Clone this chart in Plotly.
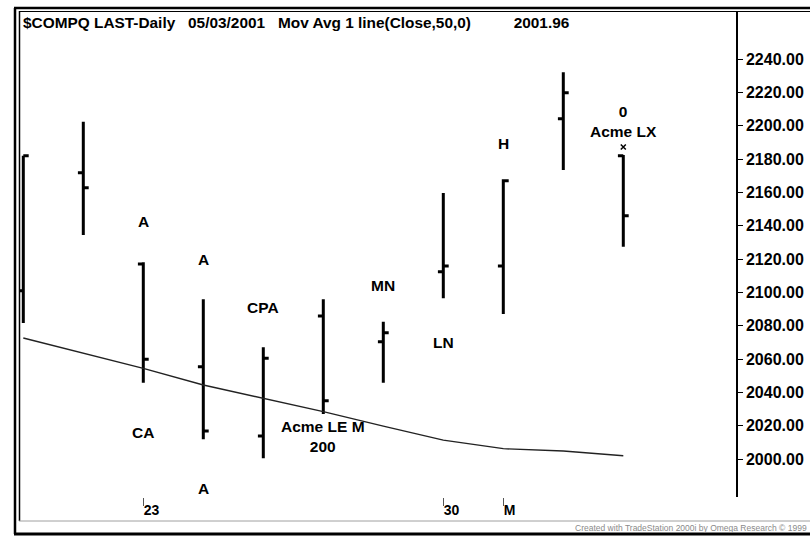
import plotly.graph_objects as go

# Daily bars, $COMPQ, Apr 19 - May 3 2001 (index = trading day)
bar_index = list(range(11))
opens = [2101.0, 2171.8, 2117.0, 2055.4, 2013.8, 2085.8, 2070.4, 2112.4, 2115.8, 2204.2, 2182.0]
highs = [2182.0, 2202.4, 2118.0, 2095.8, 2067.0, 2095.8, 2082.4, 2159.6, 2167.8, 2232.0, 2182.4]
lows = [2081.6, 2134.4, 2045.8, 2011.8, 2000.4, 2027.0, 2045.8, 2096.4, 2087.0, 2173.4, 2127.4]
closes = [2182.0, 2162.8, 2059.8, 2016.8, 2060.4, 2035.0, 2075.8, 2115.8, 2167.0, 2219.8, 2146.0]

# 50-day moving average of the close
mov_avg = [2072.6, 2063.5, 2054.4, 2044.4, 2036.4, 2028.4, 2019.7, 2011.3, 2006.2, 2004.8, 2001.96]

# Date labels on the time axis
date_ticks = [2, 7, 8]
date_labels = ["23", "30", "M"]

# Price scale
price_ticks = [2000, 2020, 2040, 2060, 2080, 2100, 2120, 2140, 2160, 2180, 2200, 2220, 2240]

# Strategy signal labels: (bar index, price level, text)
signal_idx = [2, 3, 4, 6, 7, 8, 10, 2, 5, 3]
signal_price = [2142.8, 2120.0, 2091.2, 2104.4, 2070.2, 2189.6, 2202.5, 2016.2, 2013.5, 1982.6]
signal_text = ["A", "A", "CPA", "MN", "LN", "H", "0<br>Acme LX", "CA", "Acme LE M<br>200", "A"]

# Exit marker above the last bar
exit_idx = [10]
exit_price = [2187.2]

W, H = 810, 536
PX_L, PX_R, PX_T, PX_B = 20, 736, 12, 497

def px_x(p):
    return (p - PX_L) / (PX_R - PX_L)

def px_y(p):
    return (PX_B - p) / (PX_B - PX_T)

FONT = "Arial, Liberation Sans, sans-serif"
NB = "\u00a0"

fig = go.Figure()

fig.add_trace(go.Scatter(
    x=bar_index, y=mov_avg, mode="lines",
    line=dict(color="#222222", width=1.4),
    hoverinfo="skip", showlegend=False,
))

fig.add_trace(go.Ohlc(
    x=bar_index, open=opens, high=highs, low=lows, close=closes,
    increasing=dict(line=dict(color="black", width=3)),
    decreasing=dict(line=dict(color="black", width=3)),
    tickwidth=0.09, showlegend=False,
))

fig.add_trace(go.Scatter(
    x=exit_idx, y=exit_price, mode="markers",
    marker=dict(symbol="x-thin", size=5, line=dict(color="black", width=1.5)),
    hoverinfo="skip", showlegend=False,
))

for xi, yi, t in zip(signal_idx, signal_price, signal_text):
    fig.add_annotation(
        x=xi, y=yi, xref="x", yref="y", text=t, showarrow=False,
        font=dict(family=FONT, size=15.5, color="black", weight="bold"),
        xanchor="center", yanchor="middle",
    )

# Chart header
header = ("$COMPQ LAST-Daily" + NB * 3 + "05/03/2001" + NB * 3 +
          "Mov Avg 1 line(Close,50,0)" + NB * 10 + "2001.96")
fig.add_annotation(
    x=px_x(21), y=px_y(22), xref="paper", yref="paper",
    text=header, showarrow=False, xanchor="left", yanchor="middle",
    font=dict(family=FONT, size=15.4, color="black", weight="bold"),
)

# Footer credit
fig.add_annotation(
    x=px_x(809), y=px_y(528), xref="paper", yref="paper",
    text="Created with TradeStation 2000i by Omega Research \u00a9 1999",
    showarrow=False, xanchor="right", yanchor="middle",
    font=dict(family=FONT, size=8.5, color="#8a8a8a"),
)

# Window frame lines
frame = [
    (15, 8, 15, 534, 2.5, "black"),
    (19.5, 11, 19.5, 521, 1.5, "black"),
    (14, 8, 810, 8, 2.5, "black"),
    (19, 11.5, 810, 11.5, 1.2, "black"),
    (19, 521, 810, 521, 1, "#a0a0a0"),
    (14, 534, 810, 534, 3, "black"),
]
for x0, y0, x1, y1, w, c in frame:
    fig.add_shape(type="line", xref="paper", yref="paper",
                  x0=px_x(x0), y0=px_y(y0), x1=px_x(x1), y1=px_y(y1),
                  line=dict(color=c, width=w))

x_lo = (PX_L - 23.3) / 60.0
x_hi = (PX_R - 23.3) / 60.0
y_lo = 2000 - (PX_B - 459) * 0.6
y_hi = 2240 + (59 - PX_T) * 0.6

fig.update_layout(
    width=W, height=H,
    margin=dict(l=PX_L, r=W - PX_R, t=PX_T, b=H - PX_B),
    paper_bgcolor="white", plot_bgcolor="white",
    showlegend=False,
    xaxis=dict(
        range=[x_lo, x_hi], tickmode="array", tickvals=date_ticks, ticktext=date_labels,
        ticks="outside", ticklen=8, tickwidth=1, tickcolor="#555555",
        ticklabelposition="outside right", automargin=False,
        tickfont=dict(family="Liberation Sans Narrow, Arial Narrow, " + FONT, size=14,
                      color="black", weight="bold"),
        showgrid=False, zeroline=False, showline=False,
        rangeslider=dict(visible=False), fixedrange=True,
    ),
    yaxis=dict(
        range=[y_lo, y_hi], side="right", tickmode="array", tickvals=price_ticks,
        tickformat=".2f", ticks="outside", ticklen=5, tickwidth=1, tickcolor="black",
        automargin=False,
        tickfont=dict(family=FONT, size=16, color="black", weight="bold"),
        showgrid=False, zeroline=False, showline=True, linecolor="black", linewidth=1.5,
        fixedrange=True,
    ),
)

fig.write_html("out.html")
